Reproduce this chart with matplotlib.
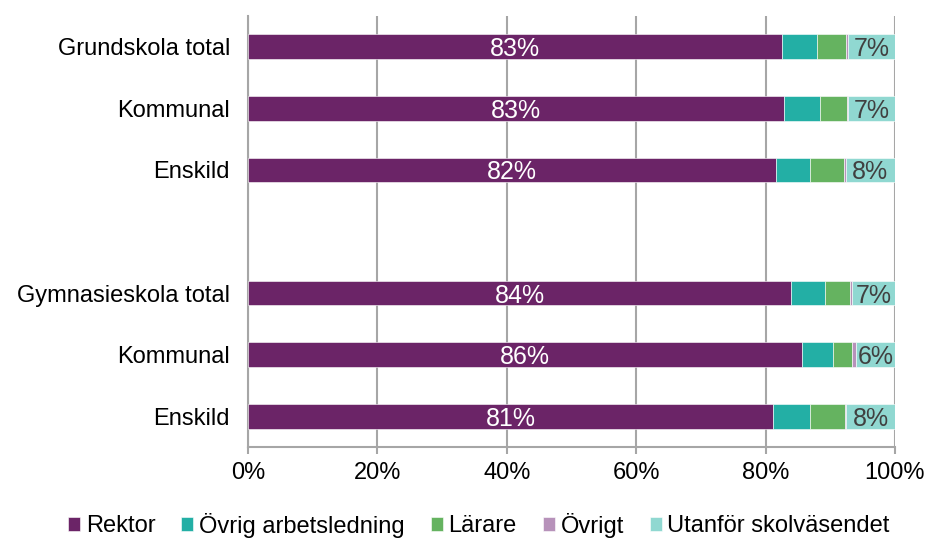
import matplotlib
matplotlib.use("Agg")
import matplotlib.pyplot as plt
import numpy as np

plt.rcParams['font.family'] = ['Liberation Sans', 'DejaVu Sans']

categories = ["Grundskola total", "Kommunal", "Enskild", "",
              "Gymnasieskola total", "Kommunal", "Enskild"]
series_names = ["Rektor", "Övrig arbetsledning", "Lärare", "Övrigt", "Utanför skolväsendet"]
rektor = [82.6, 82.8, 81.6, None, 84.0, 85.6, 81.2]
ovrig_arb = [5.4, 5.6, 5.2, None, 5.2, 4.8, 5.6]
larare = [4.4, 4.2, 5.3, None, 3.8, 3.0, 5.4]
ovrigt = [0.3, 0.2, 0.3, None, 0.3, 0.5, 0.3]
utanfor = [7.3, 7.2, 7.6, None, 6.7, 6.1, 7.5]
rektor_labels = ["83%", "83%", "82%", "", "84%", "86%", "81%"]
utanfor_labels = ["7%", "7%", "8%", "", "7%", "6%", "8%"]
colors = ["#6B2467", "#23AFA5", "#65B360", "#B792BA", "#90D8D1"]

fig = plt.figure(figsize=(9.26, 5.38), dpi=100)
ax = fig.add_axes([248/926, 1-447/538, (895-248)/926, (447-16)/538])

series = [rektor, ovrig_arb, larare, ovrigt, utanfor]
ypos = np.arange(len(categories))
idx = [i for i, c in enumerate(categories) if c != ""]
left = np.zeros(len(idx))
bars_all = []
for name, vals, col in zip(series_names, series, colors):
    v = np.array([vals[i] for i in idx], dtype=float)
    b = ax.barh(ypos[idx], v, left=left, height=0.4, color=col, label=name,
                edgecolor="white", linewidth=0.4, zorder=3)
    bars_all.append((b, v, left.copy()))
    left = left + v

# labels
b, v, l = bars_all[0]
for j, i in enumerate(idx):
    ax.text(l[j] + v[j] / 2, ypos[i], rektor_labels[i], ha="center", va="center_baseline",
            color="white", fontsize=18, zorder=4)
b, v, l = bars_all[4]
for j, i in enumerate(idx):
    ax.text(l[j] + v[j] / 2, ypos[i], utanfor_labels[i], ha="center", va="center_baseline",
            color="#404040", fontsize=18, zorder=4)

ax.set_ylim(6.5, -0.5)
ax.set_xlim(0, 100)
ax.set_yticks(ypos)
ax.set_yticklabels(categories, fontsize=17)
ax.set_xticks(np.arange(0, 101, 20))
ax.set_xticklabels([f"{t}%" for t in range(0, 101, 20)], fontsize=17)
ax.tick_params(axis="y", length=0, pad=13)
ax.tick_params(axis="x", length=5, color="#A6A6A6", width=1.5, pad=6)
ax.grid(axis="x", color="#A6A6A6", linewidth=1.5, zorder=0)
for s in ["top", "right"]:
    ax.spines[s].set_visible(False)
ax.spines["left"].set_color("#A6A6A6")
ax.spines["left"].set_linewidth(1.5)
ax.spines["bottom"].set_color("#A6A6A6")
ax.spines["bottom"].set_linewidth(1.5)

fig.legend(loc="center", bbox_to_anchor=(479/926, 1-525/538), ncol=5, frameon=False,
           fontsize=17, handlelength=0.5, handleheight=0.5, handletextpad=0.25,
           columnspacing=1.1, borderpad=0, borderaxespad=0)

fig.savefig("out.png", dpi=100)
